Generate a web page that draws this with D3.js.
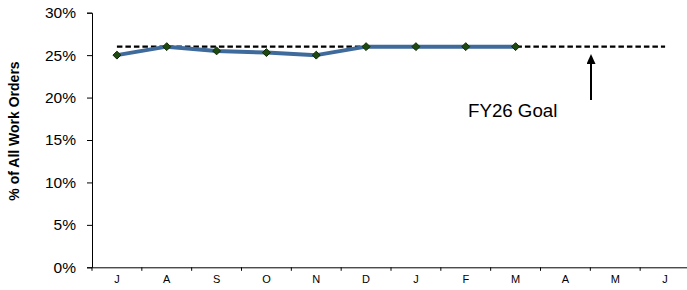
<!DOCTYPE html>
<html>
<head>
<meta charset="utf-8">
<script src="https://cdn.jsdelivr.net/npm/d3@7"></script>
<style>
  html, body { margin: 0; padding: 0; background: #fff; }
  svg { display: block; }
</style>
</head>
<body>
<svg id="chart" width="687" height="290"></svg>
<script>
const months = ["J", "A", "S", "O", "N", "D", "J", "F", "M", "A", "M", "J"];
const actual = [0.25, 0.26, 0.255, 0.253, 0.25, 0.26, 0.26, 0.26, 0.26];
const goal = 0.26;
const yTicks = [0, 0.05, 0.10, 0.15, 0.20, 0.25, 0.30];
const goalLabel = "FY26 Goal";
const yTitle = "% of All Work Orders";

(function () {
const svg = d3.select("#chart");
const mLeft = 92, mRight = 690, mTop = 12.7, mBottom = 267.3;

const x = d3.scaleBand().domain(d3.range(months.length)).range([mLeft, mRight]).padding(0);
const y = d3.scaleLinear().domain([0, 0.3]).range([mBottom, mTop]);
const cx = i => x(i) + x.bandwidth() / 2;

// Y axis
const yAxis = svg.append("g").attr("transform", `translate(${mLeft},0)`)
  .call(d3.axisLeft(y).tickValues(yTicks).tickFormat(d3.format(".0%")).tickSize(5).tickPadding(11));
yAxis.select(".domain").attr("stroke", "#000").attr("stroke-width", 1);
yAxis.selectAll(".tick line").attr("stroke", "#000");
yAxis.selectAll("text").attr("font-family", "Liberation Sans, Arial, sans-serif")
  .attr("font-size", "15.5px").attr("fill", "#000");

// X axis
const xAxis = svg.append("g").attr("transform", `translate(0,${mBottom})`)
  .call(d3.axisBottom(x).tickFormat(i => months[i]).tickSize(0).tickPadding(8));
xAxis.select(".domain").attr("stroke", "#000").attr("stroke-width", 1);
xAxis.selectAll("text").attr("font-family", "Liberation Sans, Arial, sans-serif")
  .attr("font-size", "11px").attr("fill", "#000");
xAxis.selectAll(".bt").data(d3.range(months.length + 1)).enter().append("line")
  .attr("x1", i => mLeft + i * x.bandwidth()).attr("x2", i => mLeft + i * x.bandwidth())
  .attr("y1", 0).attr("y2", 3.5).attr("stroke", "#000");

// Y title
svg.append("text")
  .attr("transform", `translate(19,${(57 + 205) / 2}) rotate(-90)`)
  .attr("text-anchor", "middle")
  .attr("font-family", "Liberation Sans, Arial, sans-serif")
  .attr("font-weight", "bold").attr("font-size", "14px")
  .text(yTitle);

// Goal dashed line
svg.append("line")
  .attr("x1", cx(0)).attr("x2", cx(months.length - 1))
  .attr("y1", y(goal)).attr("y2", y(goal))
  .attr("stroke", "#000").attr("stroke-width", 2.2).attr("stroke-dasharray", "5.5,3");

// Actual line
const line = d3.line().x((d, i) => cx(i)).y(d => y(d));
svg.append("path").datum(actual).attr("d", line)
  .attr("fill", "none").attr("stroke", "#3F6A9C").attr("stroke-width", 4)
  .attr("stroke-linejoin", "round");

// Markers
svg.selectAll(".mk").data(actual).enter().append("path")
  .attr("d", d3.symbol().type(d3.symbolDiamond2).size(40))
  .attr("transform", (d, i) => `translate(${cx(i)},${y(d)})`)
  .attr("fill", "#1E4A10").attr("stroke", "#0E2A05").attr("stroke-width", 1);

// Arrow
const ax = 591;
svg.append("defs").append("marker")
  .attr("id", "arrowhead").attr("viewBox", "0 0 10 10").attr("refX", 8).attr("refY", 5)
  .attr("markerWidth", 5).attr("markerHeight", 4.5).attr("orient", "auto")
  .attr("preserveAspectRatio", "none")
  .append("path").attr("d", "M0,0 L10,5 L0,10 z").attr("fill", "#000");
svg.append("line")
  .attr("x1", ax).attr("x2", ax).attr("y1", 100).attr("y2", 56)
  .attr("stroke", "#000").attr("stroke-width", 2).attr("marker-end", "url(#arrowhead)");

// Goal label
svg.append("text")
  .attr("x", 468).attr("y", 117)
  .attr("font-family", "Liberation Sans, Arial, sans-serif")
  .attr("font-size", "18.7px").attr("fill", "#000")
  .text(goalLabel);
})();
</script>
</body>
</html>
